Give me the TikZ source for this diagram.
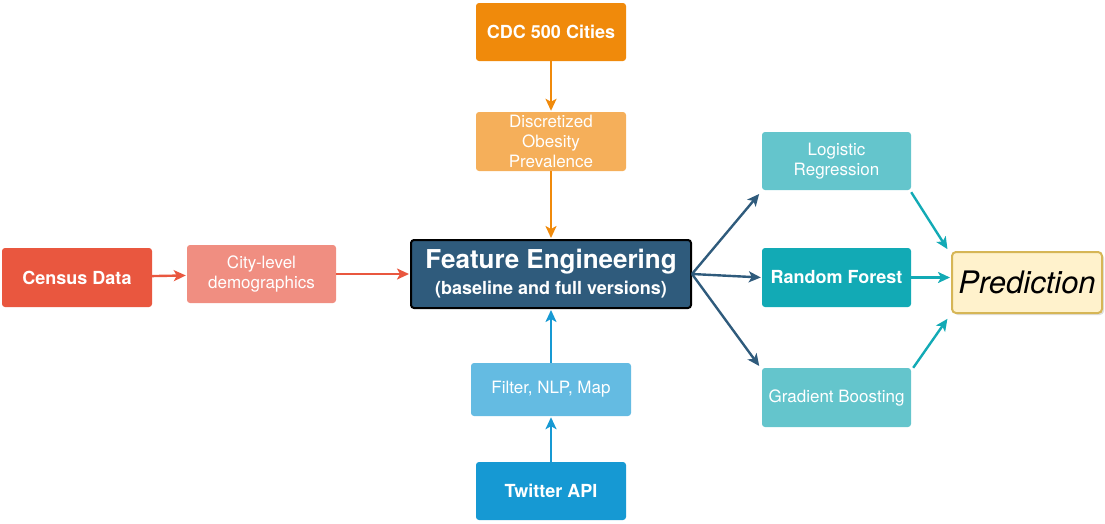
\documentclass[tikz,border=0pt]{standalone}
\usepackage{fontspec}
\setmainfont{TeX Gyre Heros}
\usetikzlibrary{arrows.meta,shadows}

\definecolor{cdcorange}{HTML}{F08A0B}
\definecolor{disclight}{HTML}{F5AF5A}
\definecolor{fedark}{HTML}{2F5B7C}
\definecolor{censusred}{HTML}{E9573F}
\definecolor{citysalmon}{HTML}{F08E81}
\definecolor{filterblue}{HTML}{64BBE2}
\definecolor{twitterblue}{HTML}{1699D3}
\definecolor{modellight}{HTML}{64C5CC}
\definecolor{modelteal}{HTML}{12AAB5}
\definecolor{predfill}{HTML}{FFF2CC}
\definecolor{predline}{HTML}{D6B656}

\tikzset{
  box/.style={rounded corners=3pt, text=white, align=center, inner sep=0pt,
    font=\fontsize{17}{20}\selectfont},
  boldbox/.style={box, font=\fontsize{18}{21}\selectfont\bfseries},
  flow/.style={line width=2.4pt, -{Stealth[length=12pt,width=11pt,inset=3pt]}, shorten >=1pt},
}

\begin{document}
\begin{tikzpicture}[x=1pt,y=-1pt]
  \useasboundingbox (0,0) rectangle (1105,523);

  % sources
  \node[boldbox, fill=cdcorange, minimum width=150pt, minimum height=58pt] (cdc) at (551,32) {CDC 500 Cities};
  \node[box, fill=disclight, minimum width=150pt, minimum height=59pt] (obesity) at (551,141.5) {\raisebox{-2pt}{\parbox{150pt}{\centering Discretized\\Obesity\\Prevalence}}};
  \node[boldbox, fill=censusred, minimum width=150pt, minimum height=59pt] (census) at (77,277.5) {Census Data};
  \node[box, fill=citysalmon, minimum width=149pt, minimum height=58pt] (city) at (261.5,274) {City-level\\demographics};
  \node[box, fill=filterblue, minimum width=160pt, minimum height=53pt] (filter) at (551,389.5) {Filter, NLP, Map};
  \node[boldbox, fill=twitterblue, minimum width=150pt, minimum height=58pt] (twitter) at (551,491) {Twitter API};

  % feature engineering
  \node[box, fill=fedark, draw=black, line width=2pt, minimum width=280pt, minimum height=68pt] (feature) at (551,274)
    {{\fontsize{26}{30}\selectfont\bfseries Feature Engineering}\\[6pt]{\fontsize{18}{21}\selectfont\bfseries (baseline and full versions)}};

  % models
  \node[box, fill=modellight, minimum width=149pt, minimum height=58pt] (logistic) at (836.5,161) {\raisebox{-2pt}{\parbox{149pt}{\centering Logistic\\Regression}}};
  \node[boldbox, fill=modelteal, minimum width=149pt, minimum height=59pt] (forest) at (836.5,277.5) {Random Forest};
  \node[box, fill=modellight, minimum width=149pt, minimum height=59pt] (boosting) at (836.5,397.5) {Gradient Boosting};

  \node[rounded corners=4pt, fill=predfill, draw=predline, line width=2pt, minimum width=150pt, minimum height=61pt,
    drop shadow={opacity=0.25, shadow xshift=2pt, shadow yshift=-2pt},
    font=\fontsize{31}{34}\selectfont\itshape] (prediction) at (1027,282.5) {Prediction};

  % arrows
  \draw[flow, cdcorange] (cdc) -- (obesity);
  \draw[flow, cdcorange] (obesity) -- (feature);
  \draw[flow, censusred] (census) -- (city);
  \draw[flow, censusred] (city) -- (feature);
  \draw[flow, twitterblue] (twitter) -- (filter);
  \draw[flow, twitterblue] (filter) -- (feature);

  \draw[flow, fedark] (feature.east) -- ([shift={(-2,3)}]logistic.south west);
  \draw[flow, fedark] (feature.east) -- (forest.west);
  \draw[flow, fedark] (feature.east) -- ([shift={(-2,-1)}]boosting.north west);

  \draw[flow, modelteal] ([shift={(0,2)}]logistic.south east) -- ([shift={(-3,-1)}]prediction.north west);
  \draw[flow, modelteal] (forest.east) -- (prediction.west |- forest.east);
  \draw[flow, modelteal] ([shift={(2,0)}]boosting.north east) -- ([shift={(-3,4)}]prediction.south west);
\end{tikzpicture}
\end{document}
